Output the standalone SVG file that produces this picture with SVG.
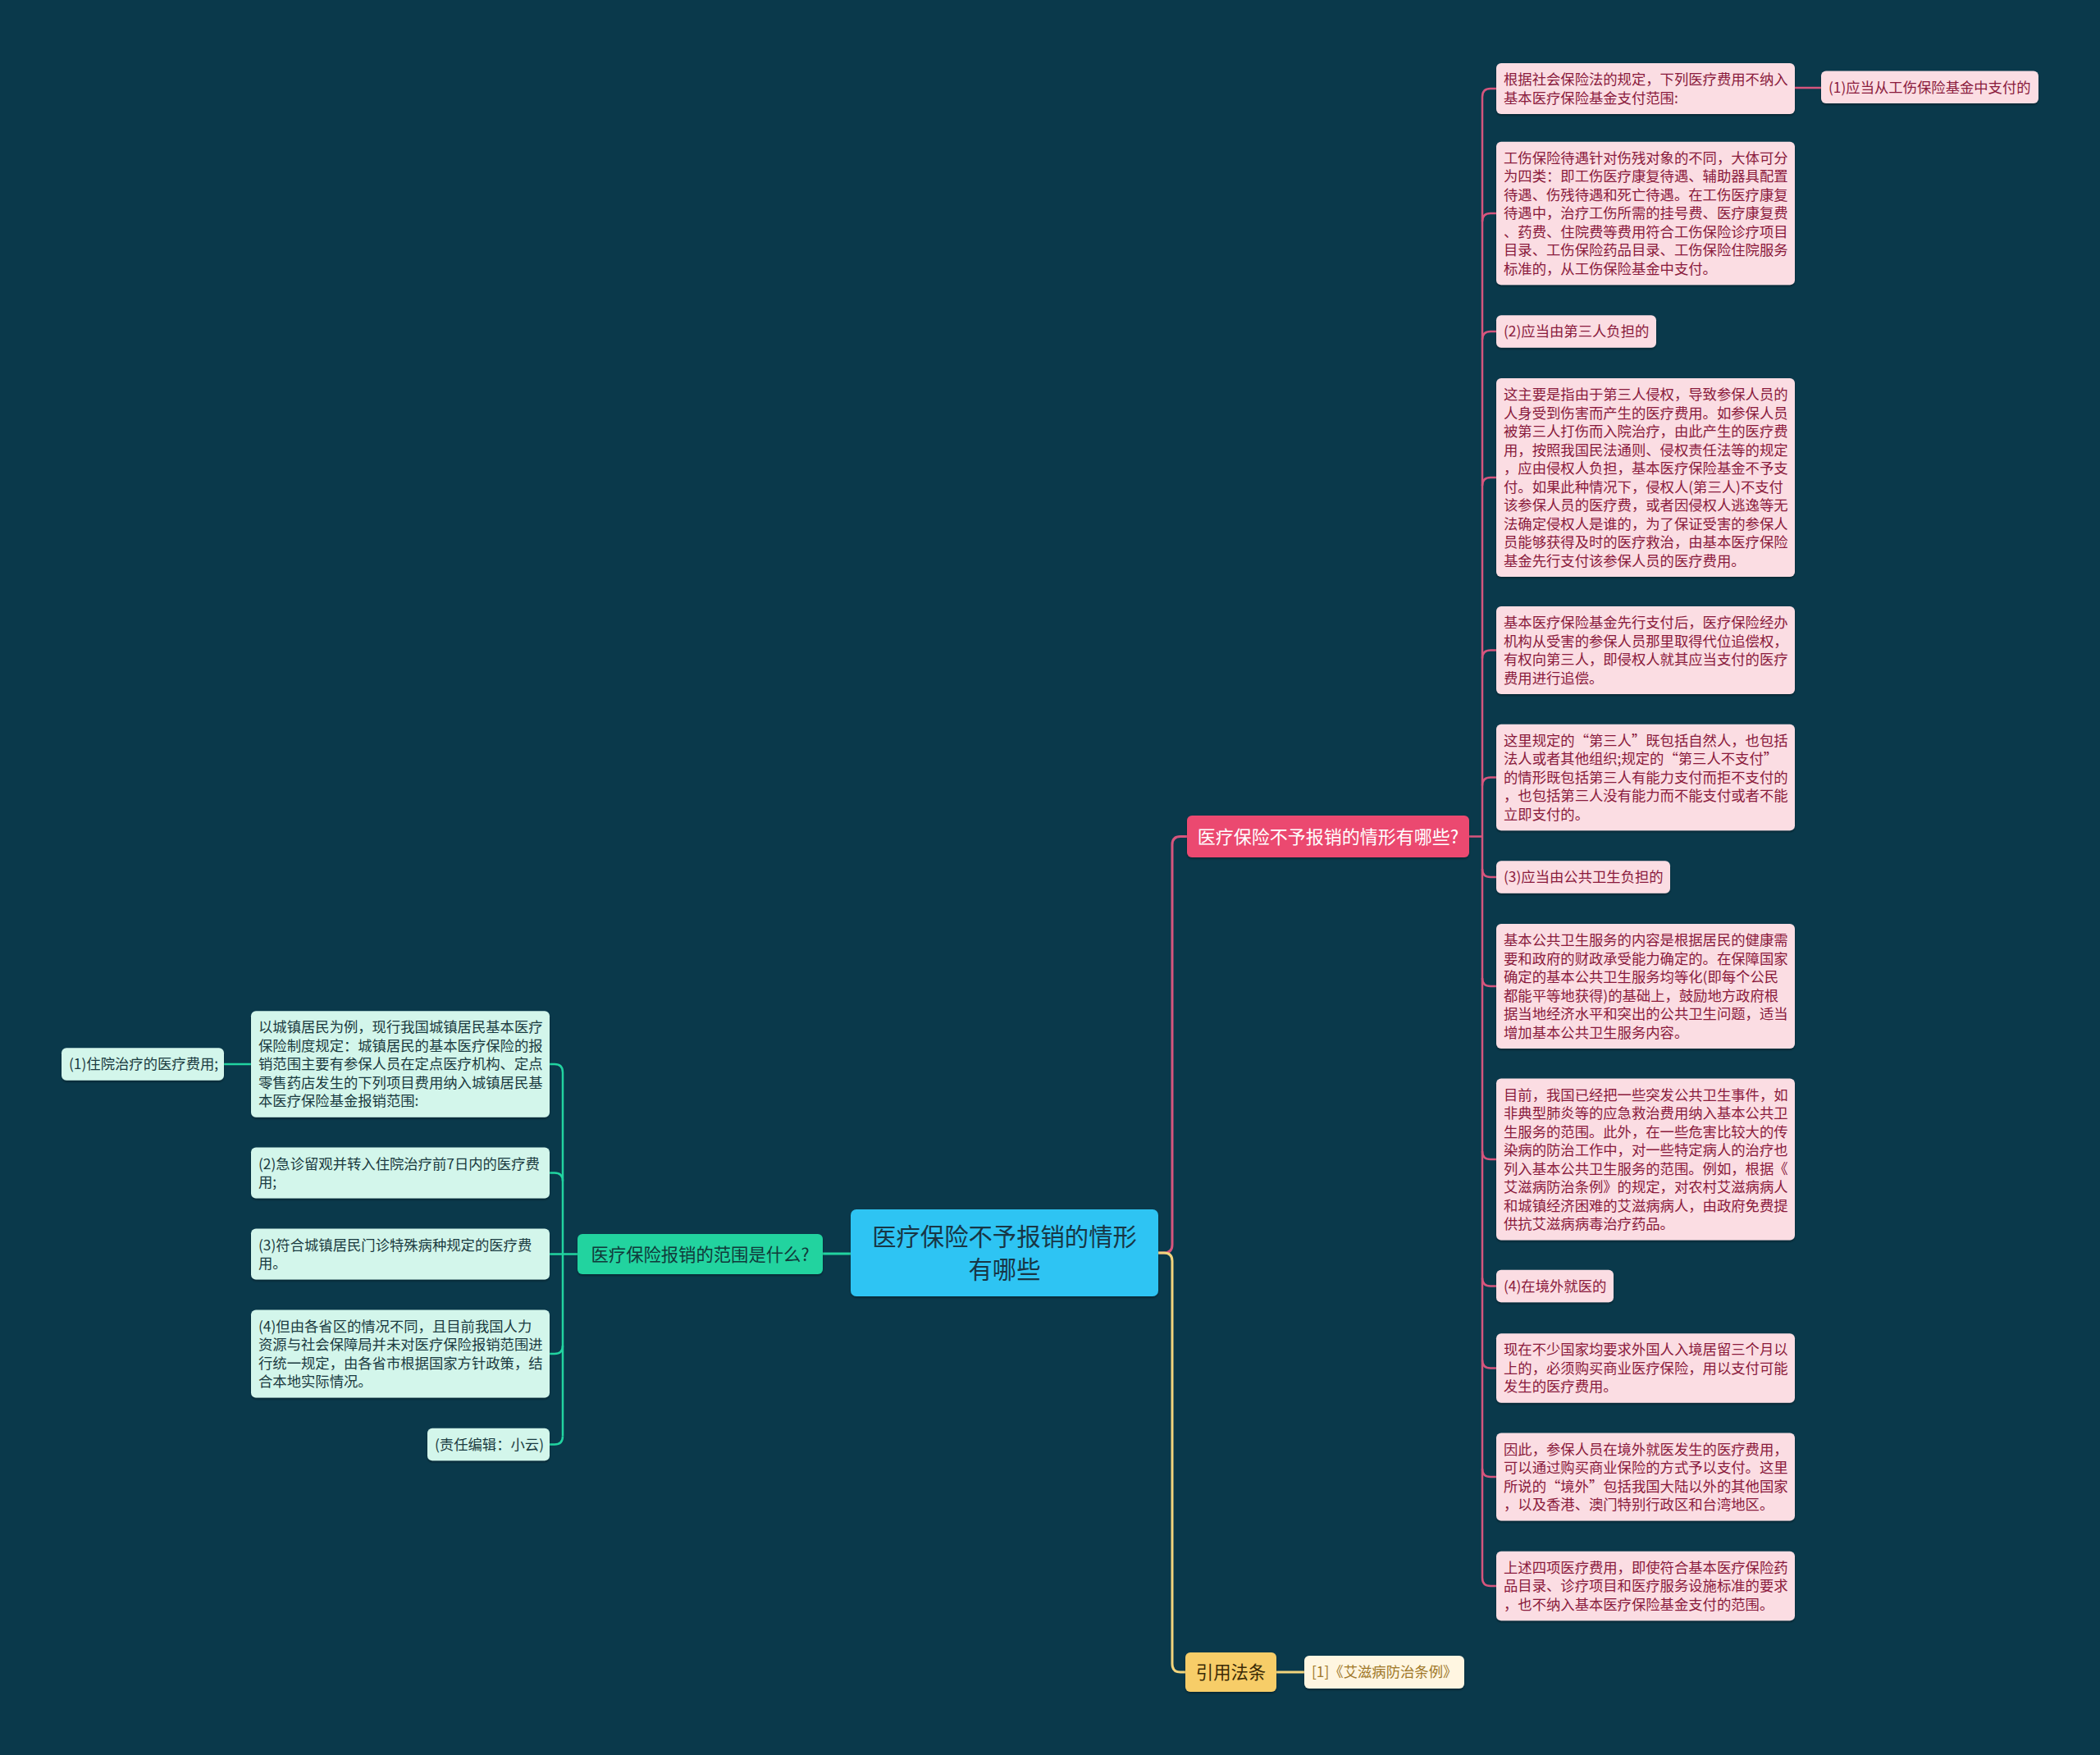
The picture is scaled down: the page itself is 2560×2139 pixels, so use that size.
<svg xmlns="http://www.w3.org/2000/svg" width="2560" height="2139" viewBox="0 0 2560 2139">
<defs>
<filter id="sh" x="-5%" y="-5%" width="110%" height="120%"><feDropShadow dx="0" dy="2" stdDeviation="1" flood-color="#000" flood-opacity="0.3"/></filter>
<style>
.t{font-family:"Noto Sans CJK SC","Noto Sans",sans-serif;}
.pk rect{fill:#fbdde3;filter:url(#sh);}
.pk text{fill:#8a1a3c;font-size:17.33px;}
.gn rect{fill:#d3f6eb;filter:url(#sh);}
.gn text{fill:#1a3a40;font-size:17.33px;}
.cp{fill:none;stroke:#d6557d;stroke-width:2.5;}
.cg{fill:none;stroke:#22d3a0;stroke-width:2.5;}
.cy{fill:none;stroke:#f2d47c;stroke-width:3;}
</style>
</defs>
<rect width="2560" height="2139" fill="#0a394b"/>
<g id="connectors">
<path class="cp" style="stroke-width:3" d="M1412 1527 H1419 Q1429 1527 1429 1517 V1029.5 Q1429 1019.5 1439 1019.5 H1447"/>
<path class="cy" d="M1412 1527 H1419 Q1429 1527 1429 1537 V2028 Q1429 2038 1439 2038 H1445"/>
<path class="cy" d="M1556 2038 H1590"/>
<path class="cg" style="stroke-width:3" d="M1037 1528 H1003"/>
<path class="cp" d="M1791 1019.5 H1807 M1807 118 V1923 M2188 107 H2220"/>
<path class="cp" d="M1807 118 Q1807 108 1817 108 H1824 M1807 270 Q1807 260 1817 260 H1824 M1807 414 Q1807 404 1817 404 H1824 M1807 592 Q1807 582 1817 582 H1824 M1807 802.5 Q1807 792.5 1817 792.5 H1824 M1807 957.5 Q1807 947.5 1817 947.5 H1824 M1807 1059 Q1807 1069 1817 1069 H1824 M1807 1192 Q1807 1202 1817 1202 H1824 M1807 1403 Q1807 1413 1817 1413 H1824 M1807 1557.5 Q1807 1567.5 1817 1567.5 H1824 M1807 1657.5 Q1807 1667.5 1817 1667.5 H1824 M1807 1790 Q1807 1800 1817 1800 H1824 M1807 1923 Q1807 1933 1817 1933 H1824"/>
<path class="cg" d="M704 1528.5 H670 M686 1307 V1750.5 M306 1297 H273"/>
<path class="cg" d="M686 1307 Q686 1297 676 1297 H670 M686 1439.5 Q686 1429.5 676 1429.5 H670 M686 1640 Q686 1650 676 1650 H670 M686 1750.5 Q686 1760.5 676 1760.5 H670"/>
</g>
<g id="center" class="t">
<rect x="1037" y="1474" width="375" height="106" rx="7" fill="#2fc4f3" filter="url(#sh)"/>
<text x="1224.5" y="1518" font-size="29.33" fill="#183645" text-anchor="middle">医疗保险不予报销的情形</text>
<text x="1224.5" y="1558" font-size="29.33" fill="#183645" text-anchor="middle">有哪些</text>
</g>
<g id="branch-pink" class="t">
<rect x="1447" y="994" width="344" height="51" rx="6" fill="#eb4a6f" filter="url(#sh)"/>
<text x="1619" y="1027.5" font-size="22" fill="#ffffff" text-anchor="middle">医疗保险不予报销的情形有哪些?</text>
</g>
<g id="branch-green" class="t">
<rect x="704" y="1504" width="299" height="49" rx="6" fill="#20d39f" filter="url(#sh)"/>
<text x="853.5" y="1536.5" font-size="21.33" fill="#103a3a" text-anchor="middle">医疗保险报销的范围是什么?</text>
</g>
<g id="branch-yellow" class="t">
<rect x="1445" y="2014" width="111" height="48" rx="6" fill="#f7cd68" filter="url(#sh)"/>
<text x="1500.5" y="2046" font-size="21.33" fill="#3a2a05" text-anchor="middle">引用法条</text>
</g>
<g id="law1" class="t">
<rect x="1590" y="2018" width="195" height="40" rx="6" fill="#fff6e1" filter="url(#sh)"/>
<text x="1599" y="2044" font-size="17.33" fill="#a07828">[1]《艾滋病防治条例》</text>
</g>
<g id="p0" class="t pk"><rect x="2220" y="86.5" width="265" height="39.5" rx="6"/><text x="2229" y="112.5">(1)应当从工伤保险基金中支付的</text></g>
<g id="p1" class="t pk"><rect x="1824" y="77" width="364" height="62" rx="6"/><text x="1833" y="103"><tspan x="1833">根据社会保险法的规定，下列医疗费用不纳入</tspan><tspan x="1833" dy="22.5">基本医疗保险基金支付范围:</tspan></text></g>
<g id="p2" class="t pk"><rect x="1824" y="172.75" width="364" height="174.5" rx="6"/><text x="1833" y="198.75"><tspan x="1833">工伤保险待遇针对伤残对象的不同，大体可分</tspan><tspan x="1833" dy="22.5">为四类：即工伤医疗康复待遇、辅助器具配置</tspan><tspan x="1833" dy="22.5">待遇、伤残待遇和死亡待遇。在工伤医疗康复</tspan><tspan x="1833" dy="22.5">待遇中，治疗工伤所需的挂号费、医疗康复费</tspan><tspan x="1833" dy="22.5">、药费、住院费等费用符合工伤保险诊疗项目</tspan><tspan x="1833" dy="22.5">目录、工伤保险药品目录、工伤保险住院服务</tspan><tspan x="1833" dy="22.5">标准的，从工伤保险基金中支付。</tspan></text></g>
<g id="p3" class="t pk"><rect x="1824" y="384.25" width="195" height="39.5" rx="6"/><text x="1833" y="410.25">(2)应当由第三人负担的</text></g>
<g id="p4" class="t pk"><rect x="1824" y="461" width="364" height="242" rx="6"/><text x="1833" y="487"><tspan x="1833">这主要是指由于第三人侵权，导致参保人员的</tspan><tspan x="1833" dy="22.5">人身受到伤害而产生的医疗费用。如参保人员</tspan><tspan x="1833" dy="22.5">被第三人打伤而入院治疗，由此产生的医疗费</tspan><tspan x="1833" dy="22.5">用，按照我国民法通则、侵权责任法等的规定</tspan><tspan x="1833" dy="22.5">，应由侵权人负担，基本医疗保险基金不予支</tspan><tspan x="1833" dy="22.5">付。如果此种情况下，侵权人(第三人)不支付</tspan><tspan x="1833" dy="22.5">该参保人员的医疗费，或者因侵权人逃逸等无</tspan><tspan x="1833" dy="22.5">法确定侵权人是谁的，为了保证受害的参保人</tspan><tspan x="1833" dy="22.5">员能够获得及时的医疗救治，由基本医疗保险</tspan><tspan x="1833" dy="22.5">基金先行支付该参保人员的医疗费用。</tspan></text></g>
<g id="p5" class="t pk"><rect x="1824" y="739" width="364" height="107" rx="6"/><text x="1833" y="765"><tspan x="1833">基本医疗保险基金先行支付后，医疗保险经办</tspan><tspan x="1833" dy="22.5">机构从受害的参保人员那里取得代位追偿权，</tspan><tspan x="1833" dy="22.5">有权向第三人，即侵权人就其应当支付的医疗</tspan><tspan x="1833" dy="22.5">费用进行追偿。</tspan></text></g>
<g id="p6" class="t pk"><rect x="1824" y="882.75" width="364" height="129.5" rx="6"/><text x="1833" y="908.75"><tspan x="1833">这里规定的“第三人”既包括自然人，也包括</tspan><tspan x="1833" dy="22.5">法人或者其他组织;规定的“第三人不支付”</tspan><tspan x="1833" dy="22.5">的情形既包括第三人有能力支付而拒不支付的</tspan><tspan x="1833" dy="22.5">，也包括第三人没有能力而不能支付或者不能</tspan><tspan x="1833" dy="22.5">立即支付的。</tspan></text></g>
<g id="p7" class="t pk"><rect x="1824" y="1049.25" width="212" height="39.5" rx="6"/><text x="1833" y="1075.25">(3)应当由公共卫生负担的</text></g>
<g id="p8" class="t pk"><rect x="1824" y="1126" width="364" height="152" rx="6"/><text x="1833" y="1152"><tspan x="1833">基本公共卫生服务的内容是根据居民的健康需</tspan><tspan x="1833" dy="22.5">要和政府的财政承受能力确定的。在保障国家</tspan><tspan x="1833" dy="22.5">确定的基本公共卫生服务均等化(即每个公民</tspan><tspan x="1833" dy="22.5">都能平等地获得)的基础上，鼓励地方政府根</tspan><tspan x="1833" dy="22.5">据当地经济水平和突出的公共卫生问题，适当</tspan><tspan x="1833" dy="22.5">增加基本公共卫生服务内容。</tspan></text></g>
<g id="p9" class="t pk"><rect x="1824" y="1314.5" width="364" height="197" rx="6"/><text x="1833" y="1340.5"><tspan x="1833">目前，我国已经把一些突发公共卫生事件，如</tspan><tspan x="1833" dy="22.5">非典型肺炎等的应急救治费用纳入基本公共卫</tspan><tspan x="1833" dy="22.5">生服务的范围。此外，在一些危害比较大的传</tspan><tspan x="1833" dy="22.5">染病的防治工作中，对一些特定病人的治疗也</tspan><tspan x="1833" dy="22.5">列入基本公共卫生服务的范围。例如，根据《</tspan><tspan x="1833" dy="22.5">艾滋病防治条例》的规定，对农村艾滋病病人</tspan><tspan x="1833" dy="22.5">和城镇经济困难的艾滋病病人，由政府免费提</tspan><tspan x="1833" dy="22.5">供抗艾滋病病毒治疗药品。</tspan></text></g>
<g id="p10" class="t pk"><rect x="1824" y="1547.75" width="143" height="39.5" rx="6"/><text x="1833" y="1573.75">(4)在境外就医的</text></g>
<g id="p11" class="t pk"><rect x="1824" y="1625.25" width="364" height="84.5" rx="6"/><text x="1833" y="1651.25"><tspan x="1833">现在不少国家均要求外国人入境居留三个月以</tspan><tspan x="1833" dy="22.5">上的，必须购买商业医疗保险，用以支付可能</tspan><tspan x="1833" dy="22.5">发生的医疗费用。</tspan></text></g>
<g id="p12" class="t pk"><rect x="1824" y="1746.5" width="364" height="107" rx="6"/><text x="1833" y="1772.5"><tspan x="1833">因此，参保人员在境外就医发生的医疗费用，</tspan><tspan x="1833" dy="22.5">可以通过购买商业保险的方式予以支付。这里</tspan><tspan x="1833" dy="22.5">所说的“境外”包括我国大陆以外的其他国家</tspan><tspan x="1833" dy="22.5">，以及香港、澳门特别行政区和台湾地区。</tspan></text></g>
<g id="p13" class="t pk"><rect x="1824" y="1890.75" width="364" height="84.5" rx="6"/><text x="1833" y="1916.75"><tspan x="1833">上述四项医疗费用，即使符合基本医疗保险药</tspan><tspan x="1833" dy="22.5">品目录、诊疗项目和医疗服务设施标准的要求</tspan><tspan x="1833" dy="22.5">，也不纳入基本医疗保险基金支付的范围。</tspan></text></g>
<g id="g0" class="t gn"><rect x="75" y="1277.25" width="198" height="39.5" rx="6"/><text x="84" y="1303.25">(1)住院治疗的医疗费用;</text></g>
<g id="g1" class="t gn"><rect x="306" y="1232.25" width="364" height="129.5" rx="6"/><text x="315" y="1258.25"><tspan x="315">以城镇居民为例，现行我国城镇居民基本医疗</tspan><tspan x="315" dy="22.5">保险制度规定：城镇居民的基本医疗保险的报</tspan><tspan x="315" dy="22.5">销范围主要有参保人员在定点医疗机构、定点</tspan><tspan x="315" dy="22.5">零售药店发生的下列项目费用纳入城镇居民基</tspan><tspan x="315" dy="22.5">本医疗保险基金报销范围:</tspan></text></g>
<g id="g2" class="t gn"><rect x="306" y="1398.5" width="364" height="62" rx="6"/><text x="315" y="1424.5"><tspan x="315">(2)急诊留观并转入住院治疗前7日内的医疗费</tspan><tspan x="315" dy="22.5">用;</tspan></text></g>
<g id="g3" class="t gn"><rect x="306" y="1497.5" width="364" height="62" rx="6"/><text x="315" y="1523.5"><tspan x="315">(3)符合城镇居民门诊特殊病种规定的医疗费</tspan><tspan x="315" dy="22.5">用。</tspan></text></g>
<g id="g4" class="t gn"><rect x="306" y="1596.5" width="364" height="107" rx="6"/><text x="315" y="1622.5"><tspan x="315">(4)但由各省区的情况不同，且目前我国人力</tspan><tspan x="315" dy="22.5">资源与社会保障局并未对医疗保险报销范围进</tspan><tspan x="315" dy="22.5">行统一规定，由各省市根据国家方针政策，结</tspan><tspan x="315" dy="22.5">合本地实际情况。</tspan></text></g>
<g id="g5" class="t gn"><rect x="521" y="1740.75" width="149" height="39.5" rx="6"/><text x="530" y="1766.75">(责任编辑：小云)</text></g>
</svg>
